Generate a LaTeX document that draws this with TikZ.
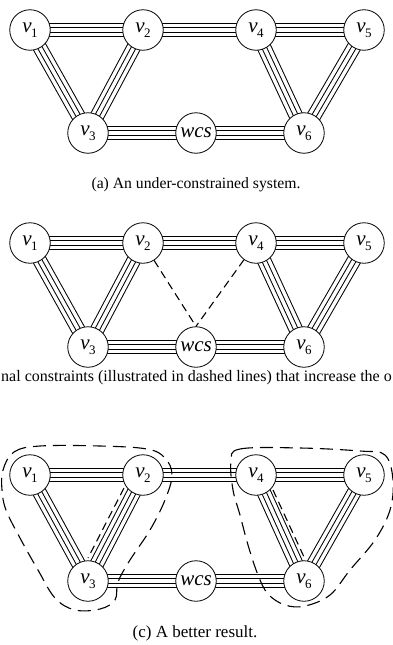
\documentclass[tikz,border=0pt]{standalone}
\usepackage{fontspec}
\setmainfont{Liberation Serif}
\usetikzlibrary{calc,backgrounds}

\tikzset{
  vnode/.style={circle, draw, fill=white, line width=0.8pt, minimum size=40.5pt, inner sep=0pt,
    font=\fontsize{21}{21}\selectfont\itshape},
  capt/.style={inner sep=0pt},
  cdash/.style={line width=1.1pt, dash pattern=on 8pt off 5pt},
  gdash/.style={line width=1.1pt, dash pattern=on 13pt off 7pt},
}
\newcommand\vlab[1]{v\kern-0.5pt\raisebox{-5pt}{\upshape\fontsize{13}{13}\selectfont #1}}
\newcommand\fourl[2]{%
  \draw[line width=14.5pt] (#1.center)--(#2.center);
  \draw[white,line width=12.5pt] (#1.center)--(#2.center);
  \draw[line width=5.5pt] (#1.center)--(#2.center);
  \draw[white,line width=3.5pt] (#1.center)--(#2.center);}
\newcommand\mypanel[3]{%
  \node[vnode] (#1v1) at (30,#2) {\vlab{1}};
  \node[vnode] (#1v2) at (143,#2) {\vlab{2}};
  \node[vnode] (#1v4) at (256,#2) {\vlab{4}};
  \node[vnode] (#1v5) at (364,#2) {\vlab{5}};
  \node[vnode] (#1v3) at (88,#3) {\vlab{3}};
  \node[vnode] (#1w) at (196,#3) {wcs};
  \node[vnode] (#1v6) at (304,#3) {\vlab{6}};
  \begin{pgfonlayer}{background}
    \fourl{#1v1}{#1v2}\fourl{#1v2}{#1v4}\fourl{#1v4}{#1v5}
    \fourl{#1v1}{#1v3}\fourl{#1v2}{#1v3}\fourl{#1v4}{#1v6}\fourl{#1v5}{#1v6}
    \fourl{#1v3}{#1w}\fourl{#1w}{#1v6}
  \end{pgfonlayer}}

\begin{document}
\begin{tikzpicture}[x=1pt,y=-1pt]
\useasboundingbox (0,0) rectangle (393,645);

% (a)
\mypanel{a}{30}{133}
\node[capt, font=\fontsize{15.7}{16}\selectfont] (capa) at (196,185) {(a) An under-constrained system.};

% (b)
\mypanel{b}{243}{347}
\draw[cdash] (bv2) -- (bw.north);
\draw[cdash] (bv4) -- (bw.north);
\node[capt, anchor=west, font=\fontsize{16}{16}\selectfont] (capb) at (1,378) {nal constraints (illustrated in dashed lines) that increase the o};

% (c)
\mypanel{c}{475}{581}
\draw[cdash] ($(cv2.center)+(-19,13)$) -- ($(cv3.center)+(0,-23)$);
\draw[cdash] ($(cv4.center)+(17,15)$) -- ($(cv6.center)+(0.5,-23)$);
\draw[gdash] plot[smooth cycle, tension=0.6] coordinates {
  (3,470) (14,452) (40,446) (100,446) (147,449) (165,458) (172,475) (165,500)
  (150,530) (130,560) (118,582) (115,600) (100,609) (75,610) (55,598) (38,570)
  (20,538) (6,510) (2,490)};
\draw[gdash] plot[smooth cycle, tension=0.6] coordinates {
  (231,462) (240,449) (300,448) (360,451) (385,455) (393,480) (390,510) (375,540)
  (350,570) (330,595) (305,606) (285,605) (268,594) (258,575) (248,545) (240,515)
  (233,490)};
\node[capt, font=\fontsize{17}{17}\selectfont] (capc) at (195,633) {(c) A better result.};
\end{tikzpicture}
\end{document}
